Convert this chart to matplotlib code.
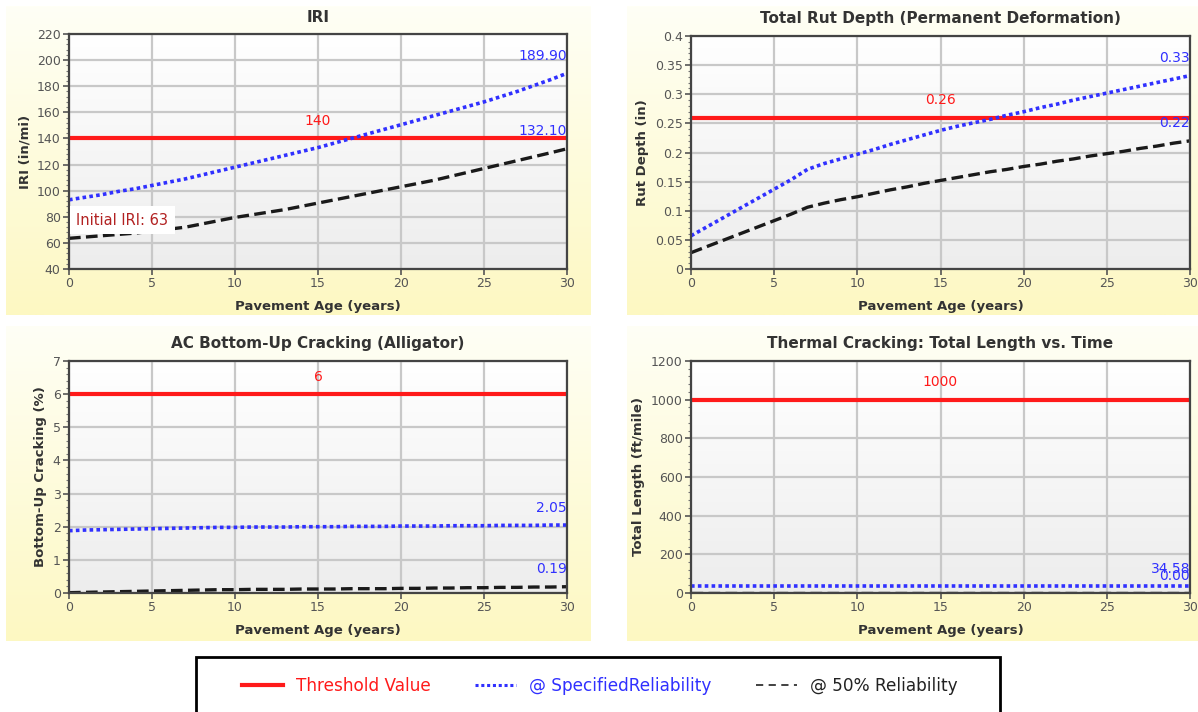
import numpy as np
import matplotlib
matplotlib.use("Agg")
import matplotlib.pyplot as plt
from matplotlib.ticker import AutoMinorLocator, MultipleLocator
from matplotlib.lines import Line2D
from matplotlib.patches import Rectangle

plt.rcParams['font.family'] = ['DejaVu Sans']

# ---------------- data ----------------
years = list(range(31))

iri_threshold = 140
iri_spec = [93, 95, 97, 99.5, 101.5, 104, 106.5, 109, 112, 115, 118, 121, 124, 127, 130, 133,
            136.5, 140, 143.5, 147, 150.5, 154, 157.5, 161, 164.5, 168, 172, 176, 180.5, 185, 189.9]
iri_50 = [63.5, 64.5, 65.5, 66.5, 67.5, 69, 70.5, 72, 74.5, 77, 79.5, 81.5, 83.5, 85.5, 88, 90.5,
          93, 95.5, 98, 100.5, 103, 105.5, 108, 111, 114, 117, 120, 123, 126, 129, 132.1]
iri_initial = 63

rut_threshold = 0.26
rut_spec = [0.057, 0.073, 0.089, 0.105, 0.121, 0.137, 0.153, 0.171, 0.181, 0.189, 0.197, 0.205,
            0.214, 0.222, 0.230, 0.238, 0.245, 0.251, 0.257, 0.264, 0.270, 0.277, 0.283, 0.290,
            0.296, 0.302, 0.308, 0.314, 0.320, 0.326, 0.332]
rut_50 = [0.028, 0.039, 0.050, 0.061, 0.072, 0.083, 0.094, 0.106, 0.113, 0.119, 0.124, 0.130,
          0.136, 0.141, 0.147, 0.152, 0.157, 0.162, 0.167, 0.171, 0.176, 0.180, 0.185, 0.189,
          0.194, 0.198, 0.202, 0.207, 0.211, 0.216, 0.220]

bu_threshold = 6
bu_spec = [1.88, 1.90, 1.91, 1.92, 1.93, 1.94, 1.95, 1.96, 1.97, 1.98, 1.98, 1.99, 1.99, 1.99,
           2.00, 2.00, 2.00, 2.01, 2.01, 2.01, 2.02, 2.02, 2.02, 2.03, 2.03, 2.03, 2.04, 2.04,
           2.04, 2.05, 2.05]
bu_50 = [0.01, 0.02, 0.03, 0.04, 0.05, 0.06, 0.07, 0.08, 0.09, 0.10, 0.10, 0.11, 0.11, 0.11,
         0.12, 0.12, 0.12, 0.13, 0.13, 0.13, 0.14, 0.14, 0.15, 0.15, 0.16, 0.16, 0.17, 0.17,
         0.18, 0.18, 0.19]

tc_threshold = 1000
tc_spec = [34.58, 34.58, 34.58, 34.58, 34.58, 34.58, 34.58, 34.58, 34.58, 34.58, 34.58, 34.58,
           34.58, 34.58, 34.58, 34.58, 34.58, 34.58, 34.58, 34.58, 34.58, 34.58, 34.58, 34.58,
           34.58, 34.58, 34.58, 34.58, 34.58, 34.58, 34.58]
tc_50 = [0, 0, 0, 0, 0, 0, 0, 0, 0, 0, 0, 0, 0, 0, 0, 0, 0, 0, 0, 0, 0, 0, 0, 0, 0, 0, 0, 0, 0, 0, 0]

titles = ["IRI", "Total Rut Depth (Permanent Deformation)",
          "AC Bottom-Up Cracking (Alligator)", "Thermal Cracking: Total Length vs. Time"]
ylabels = ["IRI (in/mi)", "Rut Depth (in)", "Bottom-Up Cracking (%)", "Total Length (ft/mile)"]
xlabel = "Pavement Age (years)"
legend_labels = ["Threshold Value", "@ SpecifiedReliability", "@ 50% Reliability"]

# ---------------- styling ----------------
RED = "#ff1a1a"
BLUE = "#3030ff"
BLACK = "#1a1a1a"
W, H = 1198, 712
fig = plt.figure(figsize=(W / 100, H / 100), dpi=100)
fig.patch.set_facecolor("white")


def px_rect(x0, y0, x1, y1):
    return [x0 / W, 1 - y1 / H, (x1 - x0) / W, (y1 - y0) / H]


def gradient(top, bottom, n=256):
    top = np.array(matplotlib.colors.to_rgb(top))
    bottom = np.array(matplotlib.colors.to_rgb(bottom))
    t = np.linspace(0, 1, n)[:, None]
    return (top * (1 - t) + bottom * t)[:, None, :]


panel_bg = [(6, 6, 591, 315), (627, 6, 1198, 315), (6, 326, 591, 641), (627, 326, 1198, 641)]
axes_rects = [(69, 34, 567, 269), (691, 36, 1190, 269), (69, 361, 567, 593), (691, 361, 1190, 593)]
ylims = [(40, 220), (0, 0.4), (0, 7), (0, 1200)]
ysteps = [20, 0.05, 1, 200]
yfmt = [lambda v: f"{v:.0f}", lambda v: f"{v:g}", lambda v: f"{v:.0f}", lambda v: f"{v:.0f}"]
series = [(iri_threshold, iri_spec, iri_50, "140", "189.90", "132.10"),
          (rut_threshold, rut_spec, rut_50, "0.26", "0.33", "0.22"),
          (bu_threshold, bu_spec, bu_50, "6", "2.05", "0.19"),
          (tc_threshold, tc_spec, tc_50, "1000", "34.58", "0.00")]

for i in range(4):
    # panel background
    bax = fig.add_axes(px_rect(*panel_bg[i]), zorder=0)
    bax.imshow(gradient("#fffff6", "#fdf8c2"), aspect="auto", extent=[0, 1, 0, 1])
    bax.set_axis_off()

    ax = fig.add_axes(px_rect(*axes_rects[i]), zorder=1)
    ax.imshow(gradient("#ffffff", "#ededed"), aspect="auto", extent=[0, 1, 0, 1],
              transform=ax.transAxes, zorder=0)
    thr, spec, p50, tlab, slab, blab = series[i]
    ax.axhline(thr, color=RED, lw=3, zorder=3)
    ax.plot(years, spec, color=BLUE, lw=2.6, linestyle=(0, (1, 0.9)), zorder=4)
    ax.plot(years, p50, color=BLACK, lw=2.4, linestyle=(0, (3.5, 1.6)), zorder=4)

    ax.set_xlim(0, 30)
    ax.set_ylim(*ylims[i])
    ax.xaxis.set_major_locator(MultipleLocator(5))
    ax.yaxis.set_major_locator(MultipleLocator(ysteps[i]))
    ax.yaxis.set_minor_locator(AutoMinorLocator(5))
    f = yfmt[i]
    ax.yaxis.set_major_formatter(matplotlib.ticker.FuncFormatter(lambda v, p, f=f: f(v)))
    ax.grid(True, which="major", color="#c8c8c8", lw=1.6, zorder=1)
    ax.set_axisbelow(True)
    for s in ax.spines.values():
        s.set_color("#444444")
        s.set_linewidth(1.6)
        s.set_zorder(6)
    ax.tick_params(axis="both", which="major", labelsize=9, colors="#555555",
                   length=4, width=1.2, direction="out", pad=2)
    ax.tick_params(axis="y", which="minor", length=2, width=0.8, colors="#777777")
    ax.set_title(titles[i], fontsize=11, fontweight="bold", color="#333333", pad=9)
    ax.set_xlabel(xlabel, fontsize=9.5, fontweight="bold", color="#333333", labelpad=7)
    ax.set_ylabel(ylabels[i], fontsize=9.5, fontweight="bold", color="#333333", labelpad=4)

    ax.annotate(tlab, xy=(15, thr), xytext=(0, 12.5), textcoords="offset points",
                ha="center", va="center", color=RED, fontsize=10, zorder=7)
    ax.annotate(slab, xy=(30, spec[-1]), xytext=(0, 12.5), textcoords="offset points",
                ha="right", va="center", color=BLUE, fontsize=10, zorder=7,
                annotation_clip=False)
    ax.annotate(blab, xy=(30, p50[-1]), xytext=(0, 12.5), textcoords="offset points",
                ha="right", va="center", color=BLUE, fontsize=10, zorder=7,
                annotation_clip=False)
    if i == 0:
        ax.text(0.45, iri_initial + 14.5, f"Initial IRI: {iri_initial}", color="#b22222",
                fontsize=10.5, ha="left", va="center", zorder=8,
                bbox=dict(boxstyle="square,pad=0.45", fc="white", ec="none"))

# ---------------- legend ----------------
lax = fig.add_axes([0, 0, 1, 1], zorder=5)
lax.set_axis_off()
lax.set_xlim(0, W)
lax.set_ylim(H, 0)
lax.add_patch(Rectangle((196, 657), 804, 70, fc="white", ec="black", lw=2, clip_on=False))
handles = [Line2D([], [], color=RED, lw=3),
           Line2D([], [], color=BLUE, lw=2.2, linestyle=(0, (1, 0.9))),
           Line2D([], [], color="#333333", lw=1.3, linestyle=(0, (4, 3)))]
leg = fig.legend(handles, legend_labels, loc="center", ncol=3, frameon=False,
                 bbox_to_anchor=(600 / W, 1 - 686 / H), fontsize=12.2,
                 handlelength=2.4, handletextpad=0.8, columnspacing=2.6)
for t, c in zip(leg.get_texts(), [RED, BLUE, "#222222"]):
    t.set_color(c)
leg.set_zorder(10)

fig.savefig("out.png", dpi=100)
